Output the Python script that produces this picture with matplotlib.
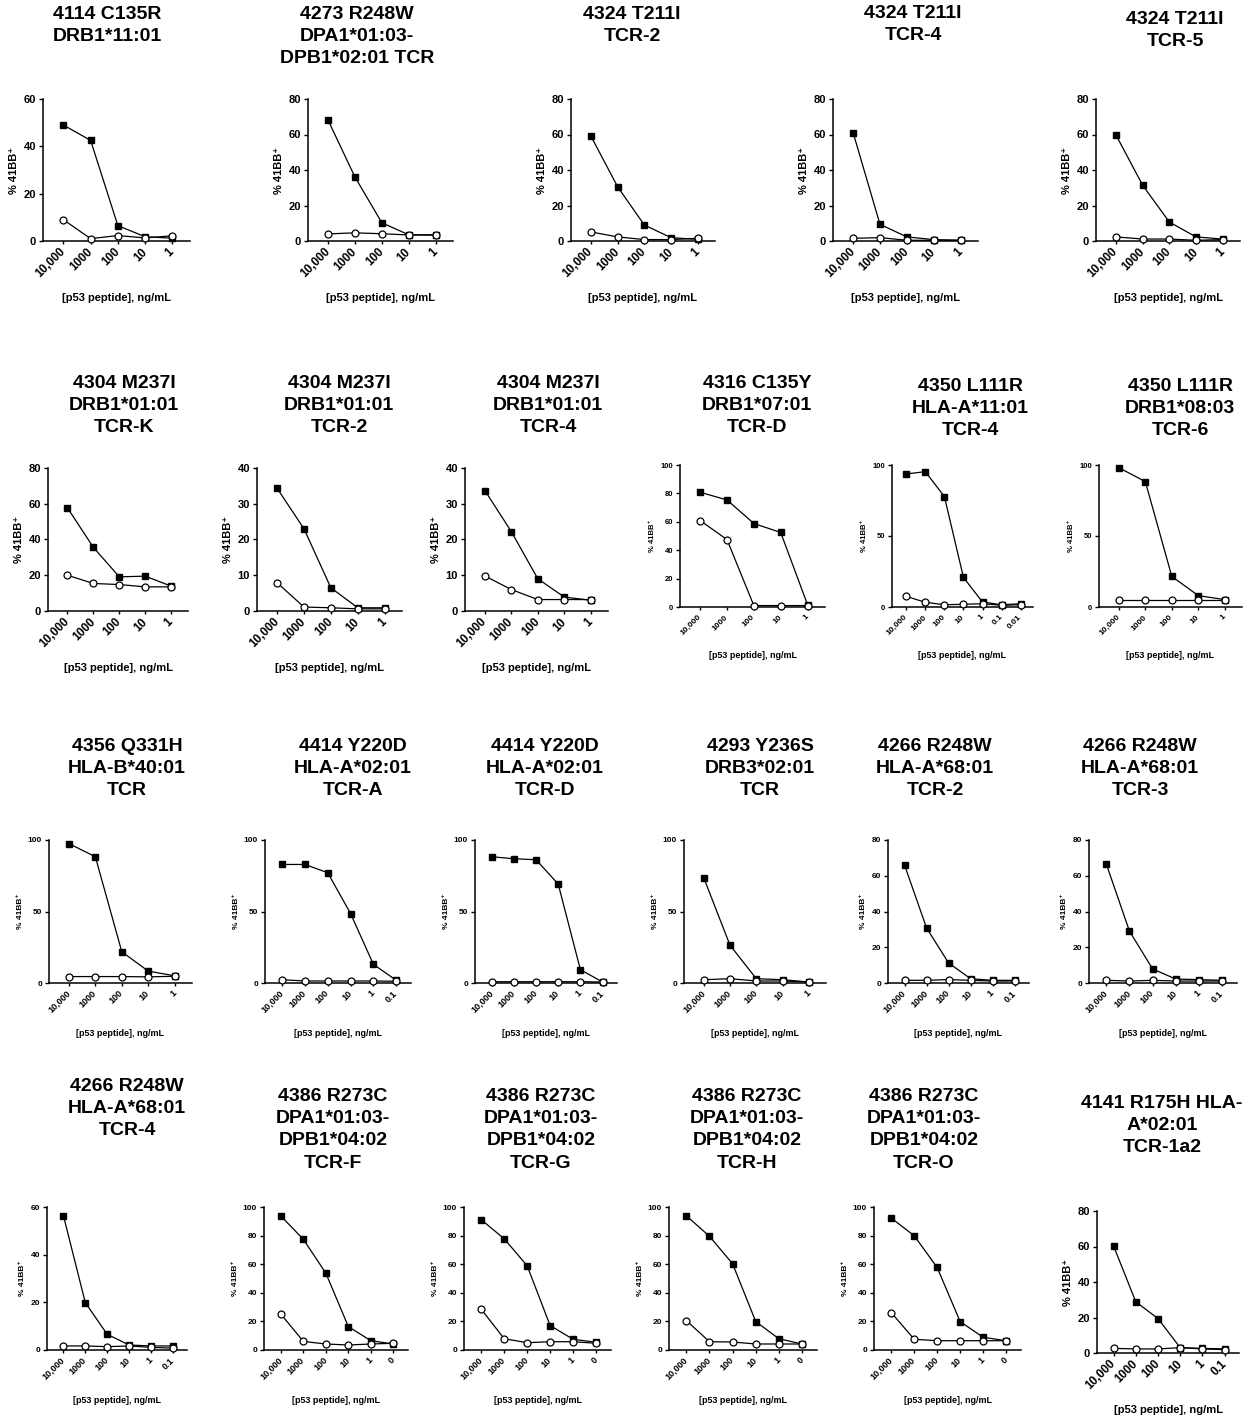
import matplotlib
matplotlib.use('Agg')
import matplotlib.pyplot as plt

plt.rcParams['font.family'] = ['Liberation Sans', 'DejaVu Sans']
plt.rcParams['font.weight'] = 'bold'

# ── Data ──────────────────────────────────────────────────────────────────────
X5 = ['10,000', '1000', '100', '10', '1']
X6 = ['10,000', '1000', '100', '10', '1', '0.1']
X6Z = ['10,000', '1000', '100', '10', '1', '0']
X7 = ['10,000', '1000', '100', '10', '1', '0.1', '0.01']

titles = [
    '4114 C135R\nDRB1*11:01',
    '4273 R248W\nDPA1*01:03-\nDPB1*02:01 TCR',
    '4324 T211I\nTCR-2',
    '4324 T211I\nTCR-4',
    '4324 T211I\nTCR-5',
    '4304 M237I\nDRB1*01:01\nTCR-K',
    '4304 M237I\nDRB1*01:01\nTCR-2',
    '4304 M237I\nDRB1*01:01\nTCR-4',
    '4316 C135Y\nDRB1*07:01\nTCR-D',
    '4350 L111R\nHLA-A*11:01\nTCR-4',
    '4350 L111R\nDRB1*08:03\nTCR-6',
    '4356 Q331H\nHLA-B*40:01\nTCR',
    '4414 Y220D\nHLA-A*02:01\nTCR-A',
    '4414 Y220D\nHLA-A*02:01\nTCR-D',
    '4293 Y236S\nDRB3*02:01\nTCR',
    '4266 R248W\nHLA-A*68:01\nTCR-2',
    '4266 R248W\nHLA-A*68:01\nTCR-3',
    '4266 R248W\nHLA-A*68:01\nTCR-4',
    '4386 R273C\nDPA1*01:03-\nDPB1*04:02\nTCR-F',
    '4386 R273C\nDPA1*01:03-\nDPB1*04:02\nTCR-G',
    '4386 R273C\nDPA1*01:03-\nDPB1*04:02\nTCR-H',
    '4386 R273C\nDPA1*01:03-\nDPB1*04:02\nTCR-O',
    '4141 R175H HLA-\nA*02:01\nTCR-1a2',
]

concs = [X5, X5, X5, X5, X5,
         X5, X5, X5, X5, X7, X5,
         X5, X6, X6, X5, X6, X6,
         X6, X6Z, X6Z, X6Z, X6Z, X6]

ymax = [60, 80, 80, 80, 80,
        80, 40, 40, 100, 100, 100,
        100, 100, 100, 100, 80, 80,
        60, 100, 100, 100, 100, 80]
ystep = [20, 20, 20, 20, 20,
         20, 10, 10, 20, 50, 50,
         50, 50, 50, 50, 20, 20,
         20, 20, 20, 20, 20, 20]

# % 41BB+ with mutant peptide (filled squares)
mutant = [
    [49, 42.5, 6.5, 1.8, 1.2],
    [68, 36, 10.3, 3.5, 3.5],
    [59, 30.5, 9, 1.9, 0.9],
    [61, 9.4, 2.3, 0.8, 0.4],
    [59.7, 31.4, 10.7, 2.3, 1.1],
    [57.7, 35.6, 19.1, 19.5, 13.9],
    [34.3, 23, 6.5, 0.9, 0.9],
    [33.7, 22.2, 9, 3.9, 3.0],
    [80.8, 75.4, 58.8, 52.5, 1.6],
    [93.7, 95.3, 77.8, 20.8, 3.5, 1.6, 2.3],
    [98.1, 88.3, 21.5, 8, 5.2],
    [97.5, 88.3, 21.8, 8.3, 5],
    [82.9, 82.9, 77.1, 48.6, 13.1, 1.9],
    [88.3, 86.9, 86.2, 69.2, 9.3, 0.7],
    [73.6, 26.4, 3.0, 2.3, 0.7],
    [66, 30.8, 11.2, 2.4, 1.5, 1.5],
    [66.5, 29, 7.9, 2.2, 1.9, 1.5],
    [56.4, 19.9, 6.6, 2.1, 1.7, 1.7],
    [93.7, 77.4, 53.7, 16.3, 6.5, 4.2],
    [91.1, 77.8, 58.9, 17.1, 7.5, 5.4],
    [93.9, 79.5, 60.3, 19.9, 7.9, 4.2],
    [92.3, 79.9, 57.7, 19.9, 8.9, 6.5],
    [60.2, 28.8, 19.4, 3.0, 2.6, 2.3],
]

# % 41BB+ with wild-type peptide (open circles)
wildtype = [
    [9, 1, 2.3, 1.3, 2.2],
    [4, 4.6, 4.1, 3.4, 3.3],
    [5.1, 2.3, 0.8, 0.8, 1.5],
    [1.5, 1.9, 0.4, 0.4, 0.4],
    [2.3, 1.1, 1.1, 0.4, 0.8],
    [20, 15.4, 14.8, 13.5, 13.5],
    [7.9, 1.1, 0.9, 0.6, 0.6],
    [9.8, 6, 3.2, 3.2, 3.2],
    [60.9, 47.5, 1, 1, 1],
    [7.5, 3.3, 1.6, 1.9, 2.3, 1.2, 1.6],
    [4.7, 4.7, 4.7, 4.7, 4.7],
    [4.5, 4.5, 4.5, 4.3, 4.7],
    [2.3, 1.4, 1.4, 1.4, 1.4, 1.2],
    [0.9, 0.9, 0.9, 0.9, 0.9, 0.7],
    [2.3, 3.0, 1.4, 1.4, 0.7],
    [1.5, 1.5, 1.9, 1.5, 1.1, 1.1],
    [1.5, 1.1, 1.5, 1.1, 1.1, 1.1],
    [1.7, 1.7, 1.4, 1.7, 1.1, 0.8],
    [25.1, 6.0, 4.2, 3.5, 4.2, 4.7],
    [28.5, 7.9, 5.1, 5.8, 5.8, 4.7],
    [20.6, 5.8, 5.6, 4.2, 4.2, 4.2],
    [26.2, 7.5, 6.5, 6.5, 6.5, 6.5],
    [2.6, 2.3, 2.3, 3.0, 2.3, 1.9],
]

# ── Layout (pixels): axis left, axis right, y-max line, y-zero line,
#    title centre x, title top y, font scale ('big' / 'mid' / 'small') ──────
W, H = 1253, 1416
layout = [
    (43, 190, 99, 241, 107, 6, 'big'),
    (308, 453, 99, 241, 357, 6, 'big'),
    (571, 715, 99, 241, 632, 6, 'big'),
    (833, 978, 99, 241, 913, 5, 'big'),
    (1096, 1240, 99, 241, 1175, 11, 'big'),
    (48, 188, 468, 611, 124, 375, 'big'),
    (257, 402, 468, 611, 339, 375, 'big'),
    (465, 608, 468, 611, 548, 375, 'big'),
    (680, 825, 465, 607, 757, 375, 'small'),
    (892, 1033, 465, 607, 970, 378, 'small'),
    (1099, 1242, 465, 607, 1180, 378, 'small'),
    (49, 192, 840, 983, 127, 738, 'mid'),
    (265, 411, 840, 983, 353, 738, 'mid'),
    (475, 617, 840, 983, 545, 738, 'mid'),
    (684, 826, 840, 983, 760, 738, 'mid'),
    (888, 1029, 840, 983, 935, 738, 'mid'),
    (1089, 1237, 840, 983, 1140, 738, 'mid'),
    (47, 187, 1207, 1350, 127, 1078, 'mid'),
    (264, 408, 1207, 1350, 333, 1088, 'mid'),
    (464, 611, 1207, 1350, 541, 1088, 'mid'),
    (669, 817, 1207, 1350, 747, 1088, 'mid'),
    (874, 1021, 1207, 1350, 924, 1088, 'mid'),
    (1097, 1239, 1211, 1353, 1162, 1095, 'big'),
]

# tick, y-label, x-label font sizes per scale
FONTS = {'big': (8.5, 8, 8), 'mid': (6.5, 6, 6.5), 'small': (6, 5.5, 6.5)}

fig = plt.figure(figsize=(W / 100, H / 100), dpi=100, facecolor='white')

for i in range(len(titles)):
    L, R, T, B, cx, ty, scale = layout[i]
    tfs, lfs, xfs = FONTS[scale]
    ax = fig.add_axes([L / W, 1 - B / H, (R - L) / W, (B - T) / H])
    n = len(concs[i])
    xs = list(range(n))

    ax.plot(xs, mutant[i], color='black', lw=0.9, marker='s', ms=5,
            mfc='black', mec='black', clip_on=False, zorder=3)
    ax.plot(xs, wildtype[i], color='black', lw=0.9, marker='o', ms=5,
            mfc='white', mec='black', mew=0.9, clip_on=False, zorder=4)

    ax.set_xlim(-0.75, n - 1 + 0.65)
    ax.set_ylim(0, ymax[i])
    ax.set_yticks(range(0, ymax[i] + 1, ystep[i]))
    ax.set_xticks(xs)

    ax.set_xticklabels(concs[i], rotation=45, ha='right', va='center',
                       rotation_mode='anchor', fontsize=tfs, fontweight='bold')
    ax.tick_params(axis='y', labelsize=tfs - 0.5, length=3, width=1, pad=2)
    ax.tick_params(axis='x', length=2.5, width=1, pad=4)
    for lab in ax.get_yticklabels():
        lab.set_fontweight('bold')

    for s in ('top', 'right'):
        ax.spines[s].set_visible(False)
    for s in ('left', 'bottom'):
        ax.spines[s].set_linewidth(1.1)

    ax.set_ylabel('% 41BB\u207a', fontsize=lfs, fontweight='bold', labelpad=3)
    ax.set_xlabel('[p53 peptide], ng/mL', fontsize=xfs, fontweight='bold',
                  labelpad=9 if scale == 'big' else 10)

    fig.text(cx / W, 1 - ty / H, titles[i], ha='center', va='top',
             multialignment='center', fontsize=14, fontweight='bold',
             linespacing=1.4)

fig.savefig('out.png', dpi=100, facecolor='white')
